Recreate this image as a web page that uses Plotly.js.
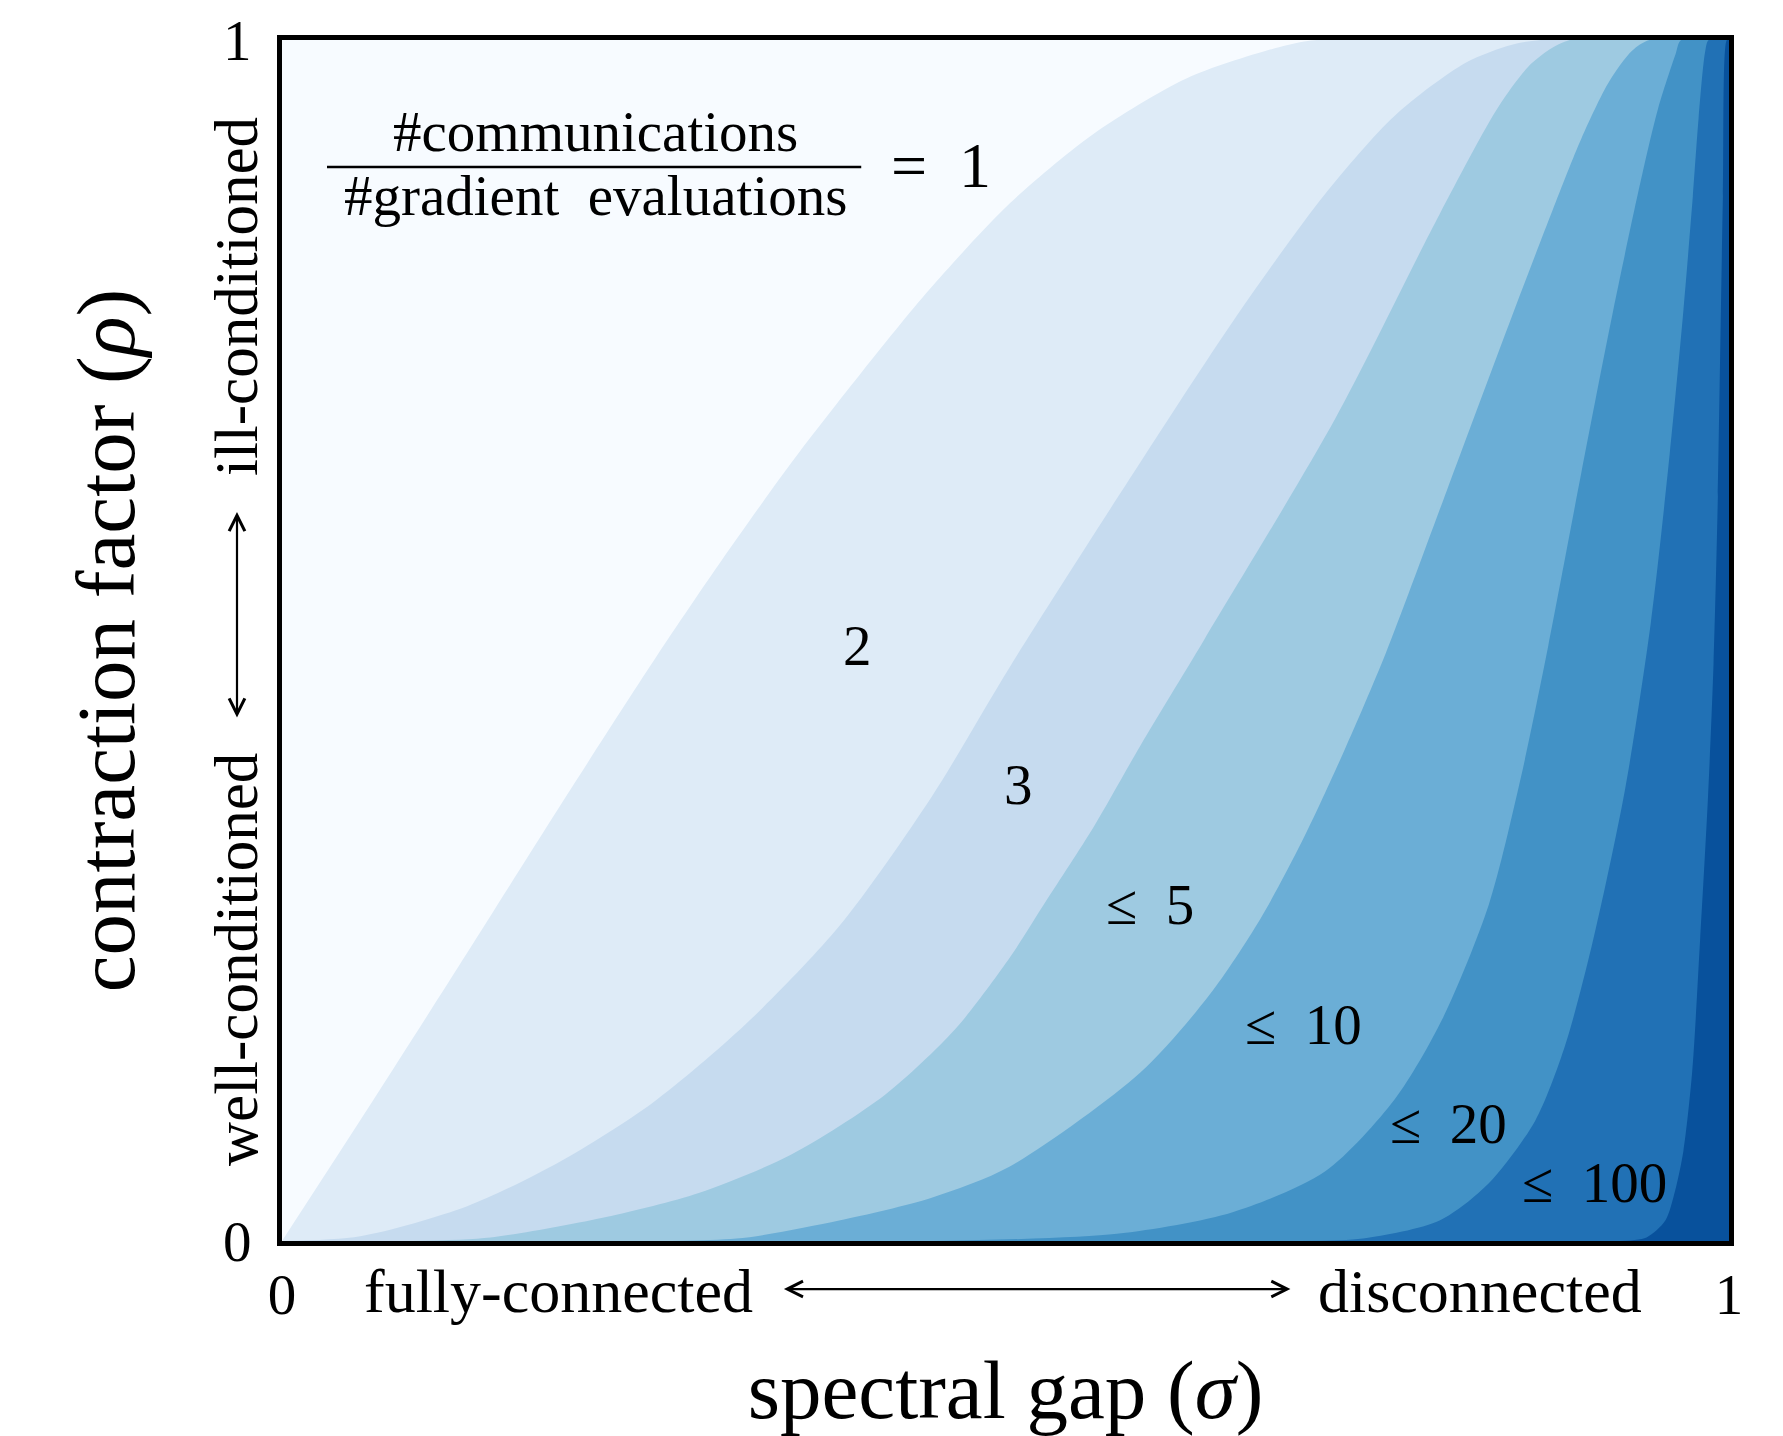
<!DOCTYPE html>
<html>
<head>
<meta charset="utf-8">
<script src="https://cdn.plot.ly/plotly-3.0.1.min.js"></script>
<style>html,body{margin:0;padding:0;background:#ffffff;}</style>
</head>
<body>
<div id="chart" style="width:1783px;height:1436px;"></div>
<script>
// ---- data (sigma = spectral gap, rho = contraction factor) ----
// boundary between ratio 1 and 2
const sigmaB1 = [0, 0.064, 0.128, 0.192, 0.259, 0.304, 0.352, 0.401, 0.448, 0.503, 0.561, 0.625, 0.689, 0.715];
const rhoB1   = [0, 0.119, 0.240, 0.362, 0.487, 0.567, 0.648, 0.724, 0.793, 0.864, 0.922, 0.968, 0.994, 1.0];
// boundary between 2 and 3
const sigmaB2 = [0, 0.054, 0.128, 0.192, 0.256, 0.320, 0.385, 0.449, 0.503, 0.593, 0.663, 0.721, 0.769, 0.818, 0.850, 0.870];
const rhoB2   = [0, 0.004, 0.029, 0.066, 0.115, 0.180, 0.262, 0.370, 0.478, 0.648, 0.776, 0.872, 0.937, 0.981, 0.996, 1.0];
// boundary between 3 and <=5
const sigmaB3 = [0.09, 0.144, 0.224, 0.288, 0.352, 0.417, 0.465, 0.503, 0.528, 0.561, 0.593, 0.637, 0.728, 0.800, 0.841, 0.864, 0.890];
const rhoB3   = [0, 0.003, 0.020, 0.040, 0.072, 0.122, 0.176, 0.236, 0.283, 0.345, 0.412, 0.500, 0.685, 0.855, 0.945, 0.981, 1.0];
// boundary between <=5 and <=10
const sigmaB4 = [0.22, 0.314, 0.385, 0.449, 0.503, 0.593, 0.641, 0.676, 0.705, 0.734, 0.763, 0.805, 0.850, 0.878, 0.898, 0.917, 0.933, 0.945];
const rhoB4   = [0, 0.002, 0.017, 0.036, 0.062, 0.140, 0.205, 0.268, 0.333, 0.408, 0.490, 0.625, 0.770, 0.858, 0.918, 0.965, 0.991, 1.0];
// boundary between <=10 and <=20
const sigmaB5 = [0.45, 0.577, 0.657, 0.721, 0.769, 0.802, 0.834, 0.856, 0.875, 0.898, 0.920, 0.940, 0.951, 0.963, 0.967];
const rhoB5   = [0, 0.006, 0.024, 0.058, 0.118, 0.185, 0.280, 0.385, 0.495, 0.640, 0.775, 0.888, 0.943, 0.988, 1.0];
// boundary between <=20 and <=100
const sigmaB6 = [0.70, 0.747, 0.800, 0.834, 0.866, 0.886, 0.905, 0.928, 0.946, 0.959, 0.9685, 0.975, 0.979, 0.9835, 0.986];
const rhoB6   = [0, 0.002, 0.017, 0.048, 0.100, 0.160, 0.245, 0.375, 0.515, 0.655, 0.775, 0.870, 0.935, 0.990, 1.0];
// boundary between <=100 and >100
const sigmaB7 = [0.92, 0.943, 0.956, 0.9628, 0.9685, 0.9745, 0.980, 0.9855, 0.9893, 0.9923, 0.9958, 0.9985];
const rhoB7   = [0, 0.003, 0.017, 0.042, 0.075, 0.140, 0.250, 0.370, 0.480, 0.620, 0.870, 1.0];
// top-right corner of the domain (sigma = 1, rho = 1)
const sigmaEdge = [1];
const rhoEdge   = [1];

const regionLabels     = ['2', '3', '≤\u20025', '≤\u200210', '≤\u200220', '≤\u2002100'];
const regionLabelSigma = [0.398, 0.509, 0.600, 0.706, 0.806, 0.907];
const regionLabelRho   = [0.496, 0.380, 0.280, 0.180, 0.098, 0.049];

const xTickVals = [0, 1];
const xTickText = ['0', '1'];
const yTickVals = [0, 1];
const yTickText = ['0', '1'];

// ---- styles ----
const levelColors = ['#f7fbff', '#deebf7', '#c6dbef', '#9ecae1', '#6baed6', '#4292c6', '#2171b5', '#08519c'];
const FONT = 'Liberation Serif, Times New Roman, serif';

const boundaries = [
  [sigmaB1, rhoB1], [sigmaB2, rhoB2], [sigmaB3, rhoB3], [sigmaB4, rhoB4],
  [sigmaB5, rhoB5], [sigmaB6, rhoB6], [sigmaB7, rhoB7]
];

// each region = area below / right of a boundary (boundary is a function rho(sigma), flat at 1 after it
// reaches the top); drawn from lightest to darkest so that each darker region lies on top
const traces = boundaries.map((b, i) => ({
  type: 'scatter',
  mode: 'lines',
  x: b[0].concat(sigmaEdge),
  y: b[1].concat(rhoEdge),
  line: {width: 0, shape: 'spline', smoothing: 0.8, color: levelColors[i + 1]},
  fill: 'tozeroy',
  fillcolor: levelColors[i + 1],
  hoverinfo: 'skip',
  showlegend: false
}));

const annotations = [];
regionLabels.forEach((t, i) => {
  annotations.push({
    xref: 'x', yref: 'y', x: regionLabelSigma[i], y: regionLabelRho[i],
    text: t, showarrow: false, xanchor: 'center', yanchor: 'middle',
    font: {family: FONT, size: 57, color: '#000'}
  });
});

// fraction
annotations.push({xref: 'paper', yref: 'paper', x: 0.2164, y: 0.9240, text: '#communications',
  showarrow: false, xanchor: 'center', yanchor: 'middle', font: {family: FONT, size: 57, color: '#000'}});
annotations.push({xref: 'paper', yref: 'paper', x: 0.2164, y: 0.8705, text: '#gradient\u00a0\u00a0evaluations',
  showarrow: false, xanchor: 'center', yanchor: 'middle', font: {family: FONT, size: 57, color: '#000'}});
annotations.push({xref: 'paper', yref: 'paper', x: 0.4555, y: 0.8959, text: '=\u00a0\u00a01',
  showarrow: false, xanchor: 'center', yanchor: 'middle', font: {family: FONT, size: 64, color: '#000'}});

// x-side labels and arrow
annotations.push({xref: 'paper', yref: 'paper', x: 0.1908, y: -0.0420, text: 'fully-connected',
  showarrow: false, xanchor: 'center', yanchor: 'middle', font: {family: FONT, size: 62, color: '#000'}});
annotations.push({xref: 'paper', yref: 'paper', x: 0.8282, y: -0.0420, text: 'disconnected',
  showarrow: false, xanchor: 'center', yanchor: 'middle', font: {family: FONT, size: 62, color: '#000'}});
annotations.push({xref: 'paper', yref: 'paper', x: 0.6969, y: -0.0400, ax: -508, ay: 0,
  text: '', showarrow: true, arrowside: 'end+start', arrowhead: 5, startarrowhead: 5,
  arrowsize: 1.4, startarrowsize: 1.4, arrowwidth: 2.2, arrowcolor: '#000', standoff: 0, startstandoff: 0});

// y-side labels and arrow
annotations.push({xref: 'paper', yref: 'paper', x: -0.0318, y: 0.2348, text: 'well-conditioned', textangle: -90,
  showarrow: false, xanchor: 'center', yanchor: 'middle', font: {family: FONT, size: 61, color: '#000'}});
annotations.push({xref: 'paper', yref: 'paper', x: -0.0318, y: 0.7868, text: 'ill-conditioned', textangle: -90,
  showarrow: false, xanchor: 'center', yanchor: 'middle', font: {family: FONT, size: 61, color: '#000'}});
annotations.push({xref: 'paper', yref: 'paper', x: -0.0311, y: 0.6070, ax: 0, ay: 207,
  text: '', showarrow: true, arrowside: 'end+start', arrowhead: 5, startarrowhead: 5,
  arrowsize: 1.4, startarrowsize: 1.4, arrowwidth: 2.2, arrowcolor: '#000', standoff: 0, startstandoff: 0});

const layout = {
  width: 1783,
  height: 1436,
  margin: {l: 282, r: 54, t: 40, b: 195, pad: 0},
  paper_bgcolor: '#ffffff',
  plot_bgcolor: levelColors[0],
  showlegend: false,
  font: {family: FONT, color: '#000'},
  xaxis: {
    range: [0, 1], fixedrange: true, showgrid: false, zeroline: false,
    showline: true, mirror: true, linecolor: '#000', linewidth: 5,
    ticks: '', tickvals: xTickVals, ticktext: xTickText, ticklabelstandoff: 0,
    tickfont: {family: FONT, size: 57, color: '#000'},
    title: {text: 'spectral gap (<i>σ</i>)', font: {family: FONT, size: 83, color: '#000'}, standoff: 40},
    automargin: false
  },
  yaxis: {
    range: [0, 1], fixedrange: true, showgrid: false, zeroline: false,
    showline: true, mirror: true, linecolor: '#000', linewidth: 5,
    ticks: '', tickvals: yTickVals, ticktext: yTickText, ticklabelstandoff: 14,
    tickfont: {family: FONT, size: 57, color: '#000'},
    title: {text: 'contraction factor (<i>ρ</i>)', font: {family: FONT, size: 83, color: '#000'}, standoff: 63},
    automargin: false
  },
  shapes: [
    {type: 'line', xref: 'paper', yref: 'paper', x0: 0.0311, x1: 0.4003, y0: 0.8943, y1: 0.8943,
     line: {color: '#000', width: 2.5}}
  ],
  annotations: annotations
};

Plotly.newPlot('chart', traces, layout, {displayModeBar: false, staticPlot: true});
</script>
</body>
</html>
